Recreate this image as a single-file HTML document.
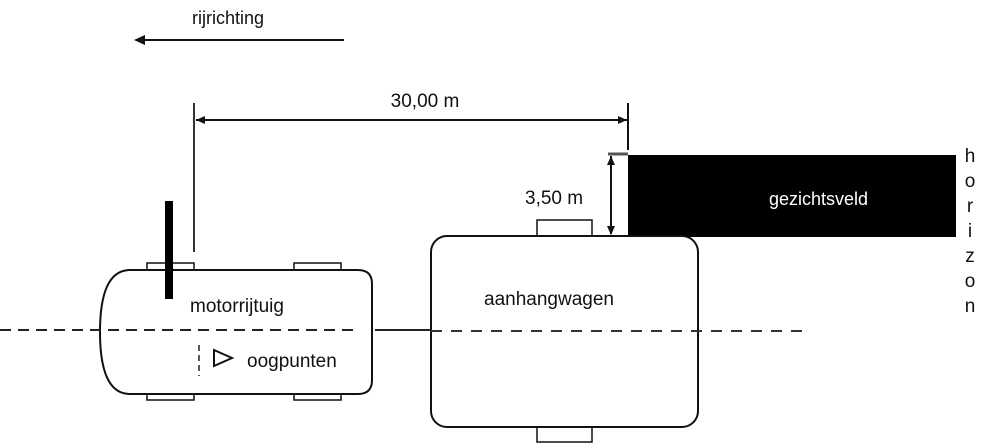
<!DOCTYPE html>
<html><head><style>
html,body{margin:0;padding:0;background:#fff;}
svg{display:block;}
text{font-family:"Liberation Sans",sans-serif;fill:#111;}
</style></head><body>
<svg width="982" height="448" viewBox="0 0 982 448">
<text x="192" y="24" font-size="18">rijrichting</text>
<line x1="142" y1="40" x2="344" y2="40" stroke="#111" stroke-width="2"/>
<polygon points="134,40 145,35 145,45" fill="#111"/>
<text x="425" y="107" font-size="19" text-anchor="middle">30,00 m</text>
<line x1="194" y1="103" x2="194" y2="252" stroke="#333" stroke-width="2"/>
<line x1="628" y1="103" x2="628" y2="150" stroke="#111" stroke-width="2"/>
<line x1="196" y1="120" x2="627" y2="120" stroke="#111" stroke-width="2"/>
<polygon points="196,120 205,116 205,124" fill="#111"/>
<polygon points="627,120 618,116 618,124" fill="#111"/>
<rect x="628" y="155" width="328" height="82" fill="#000"/>
<text x="769" y="205" font-size="18" fill="#fff" style="fill:#fff">gezichtsveld</text>
<line x1="608" y1="154" x2="628" y2="154" stroke="#555" stroke-width="3"/>
<line x1="611" y1="156" x2="611" y2="234" stroke="#111" stroke-width="2"/>
<polygon points="611,156 607,165 615,165" fill="#111"/>
<polygon points="611,235 607,226 615,226" fill="#111"/>
<text x="525" y="204" font-size="19">3,50 m</text>
<g font-size="19" text-anchor="middle">
<text x="970" y="162">h</text><text x="970" y="187">o</text><text x="970" y="212">r</text><text x="970" y="237">i</text><text x="970" y="262">z</text><text x="970" y="287">o</text><text x="970" y="312">n</text>
</g>
<!-- car -->
<rect x="147" y="263" width="47" height="8" fill="#fff" stroke="#111" stroke-width="1.5"/>
<rect x="294" y="263" width="47" height="8" fill="#fff" stroke="#111" stroke-width="1.5"/>
<rect x="147" y="392" width="47" height="8" fill="#fff" stroke="#111" stroke-width="1.5"/>
<rect x="294" y="392" width="47" height="8" fill="#fff" stroke="#111" stroke-width="1.5"/>
<path d="M130,270 L358,270 Q372,270 372,284 L372,380 Q372,394 358,394 L130,394 Q100,394 100,332 Q100,270 130,270 Z" fill="#fff" stroke="#111" stroke-width="2"/>
<rect x="165" y="201" width="8" height="98" fill="#000"/>
<text x="190" y="312" font-size="19">motorrijtuig</text>
<line x1="199" y1="345" x2="199" y2="376" stroke="#222" stroke-width="1.5" stroke-dasharray="6,4"/>
<polygon points="214,350 232,358 214,366" fill="none" stroke="#111" stroke-width="2"/>
<text x="247" y="367" font-size="19">oogpunten</text>
<line x1="0" y1="330" x2="355" y2="330" stroke="#222" stroke-width="2" stroke-dasharray="11,7"/>
<line x1="375" y1="330" x2="431" y2="330" stroke="#222" stroke-width="2"/>
<!-- trailer -->
<rect x="537" y="220" width="55" height="16" fill="#fff" stroke="#111" stroke-width="1.5"/>
<rect x="537" y="427" width="55" height="15" fill="#fff" stroke="#111" stroke-width="1.5"/>
<rect x="431" y="236" width="267" height="191" rx="16" fill="#fff" stroke="#111" stroke-width="2"/>
<text x="484" y="305" font-size="19">aanhangwagen</text>
<line x1="431" y1="331" x2="805" y2="331" stroke="#333" stroke-width="2" stroke-dasharray="11,9"/>
</svg>
</body></html>
